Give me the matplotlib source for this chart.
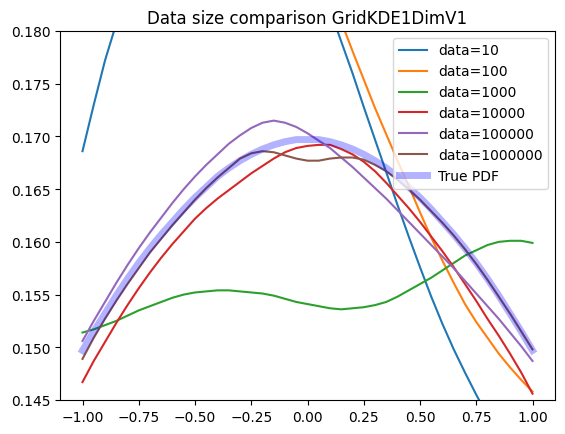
import numpy as np
from matplotlib import pyplot as plt

# sample positions (step 0.05)
x = np.linspace(-1.0, 1.0, 41)

sizes = [10, 100, 1000, 10000, 100000, 1000000]

kde_10 = [0.1686, 0.1730, 0.1772, 0.1807, 0.1840, 0.1867, 0.1892, 0.1912, 0.1930, 0.1943,
          0.1953, 0.1958, 0.1960, 0.1959, 0.1955, 0.1947, 0.1937, 0.1923, 0.1907, 0.1888,
          0.1867, 0.1844, 0.1820, 0.1790, 0.1760, 0.1728, 0.1697, 0.1666, 0.1635, 0.1605,
          0.1576, 0.1548, 0.1522, 0.1498, 0.1476, 0.1455, 0.1435, 0.1417, 0.1400, 0.1385, 0.1370]
kde_100 = [0.1960, 0.1973, 0.1985, 0.1996, 0.2005, 0.2013, 0.2020, 0.2026, 0.2030, 0.2032,
           0.2032, 0.2030, 0.2025, 0.2018, 0.2010, 0.1998, 0.1985, 0.1968, 0.1950, 0.1926,
           0.1900, 0.1870, 0.1837, 0.1809, 0.1781, 0.1754, 0.1727, 0.1702, 0.1677, 0.1653,
           0.1628, 0.1604, 0.1582, 0.1561, 0.1541, 0.1524, 0.1509, 0.1494, 0.1481, 0.1469, 0.1458]
kde_1000 = [0.1514, 0.1517, 0.1521, 0.1525, 0.1530, 0.1535, 0.1539, 0.1543, 0.1547, 0.1550,
            0.1552, 0.1553, 0.1554, 0.1554, 0.1553, 0.1552, 0.1551, 0.1549, 0.1546, 0.1543,
            0.1541, 0.1539, 0.1537, 0.1536, 0.1537, 0.1538, 0.1540, 0.1543, 0.1548, 0.1554,
            0.1560, 0.1566, 0.1573, 0.1580, 0.1587, 0.1592, 0.1597, 0.1600, 0.1601, 0.1601, 0.1599]
kde_10000 = [0.1467, 0.1487, 0.1505, 0.1523, 0.1540, 0.1556, 0.1571, 0.1585, 0.1598, 0.1610,
             0.1622, 0.1632, 0.1641, 0.1649, 0.1657, 0.1665, 0.1672, 0.1679, 0.1685, 0.1689,
             0.1691, 0.1692, 0.1692, 0.1688, 0.1683, 0.1676, 0.1667, 0.1656, 0.1644, 0.1632,
             0.1619, 0.1605, 0.1591, 0.1576, 0.1560, 0.1544, 0.1527, 0.1511, 0.1494, 0.1476, 0.1456]
kde_100000 = [0.1506, 0.1525, 0.1543, 0.1561, 0.1578, 0.1594, 0.1609, 0.1623, 0.1637, 0.1650,
              0.1662, 0.1673, 0.1683, 0.1693, 0.1701, 0.1708, 0.1713, 0.1715, 0.1713, 0.1709,
              0.1703, 0.1696, 0.1689, 0.1680, 0.1671, 0.1661, 0.1651, 0.1641, 0.1630, 0.1619,
              0.1608, 0.1597, 0.1586, 0.1575, 0.1563, 0.1551, 0.1539, 0.1527, 0.1514, 0.1501, 0.1487]
kde_1000000 = [0.1489, 0.1509, 0.1527, 0.1544, 0.1560, 0.1575, 0.1590, 0.1603, 0.1616, 0.1628,
               0.1640, 0.1651, 0.1661, 0.1670, 0.1679, 0.1684, 0.1686, 0.1685, 0.1682, 0.1679,
               0.1677, 0.1677, 0.1679, 0.1680, 0.1680, 0.1678, 0.1673, 0.1667, 0.1659, 0.1650,
               0.1640, 0.1629, 0.1618, 0.1606, 0.1593, 0.1579, 0.1564, 0.1548, 0.1532, 0.1515, 0.1498]
true_pdf = [0.1497, 0.1515, 0.1532, 0.1549, 0.1565, 0.1580, 0.1594, 0.1607, 0.1619, 0.1631,
            0.1642, 0.1652, 0.1662, 0.1670, 0.1677, 0.1683, 0.1688, 0.1692, 0.1695, 0.1697,
            0.1697, 0.1697, 0.1695, 0.1692, 0.1688, 0.1683, 0.1677, 0.1670, 0.1662, 0.1652,
            0.1642, 0.1631, 0.1619, 0.1607, 0.1594, 0.1580, 0.1565, 0.1549, 0.1532, 0.1515, 0.1497]

kdes = [kde_10, kde_100, kde_1000, kde_10000, kde_100000, kde_1000000]

fig, ax = plt.subplots(figsize=(5.65, 4.35), dpi=100)
fig.subplots_adjust(left=60 / 565, right=555 / 565, top=403 / 435, bottom=34 / 435)

for n, y in zip(sizes, kdes):
    ax.plot(x, y, label=f"data={n}")
ax.plot(x, true_pdf, color='blue', alpha=0.3, linewidth=5, label="True PDF")

ax.set_ylim(0.145, 0.18)
ax.set_title("Data size comparison GridKDE1DimV1")
ax.legend(loc='upper right')
fig.savefig("out.png")
